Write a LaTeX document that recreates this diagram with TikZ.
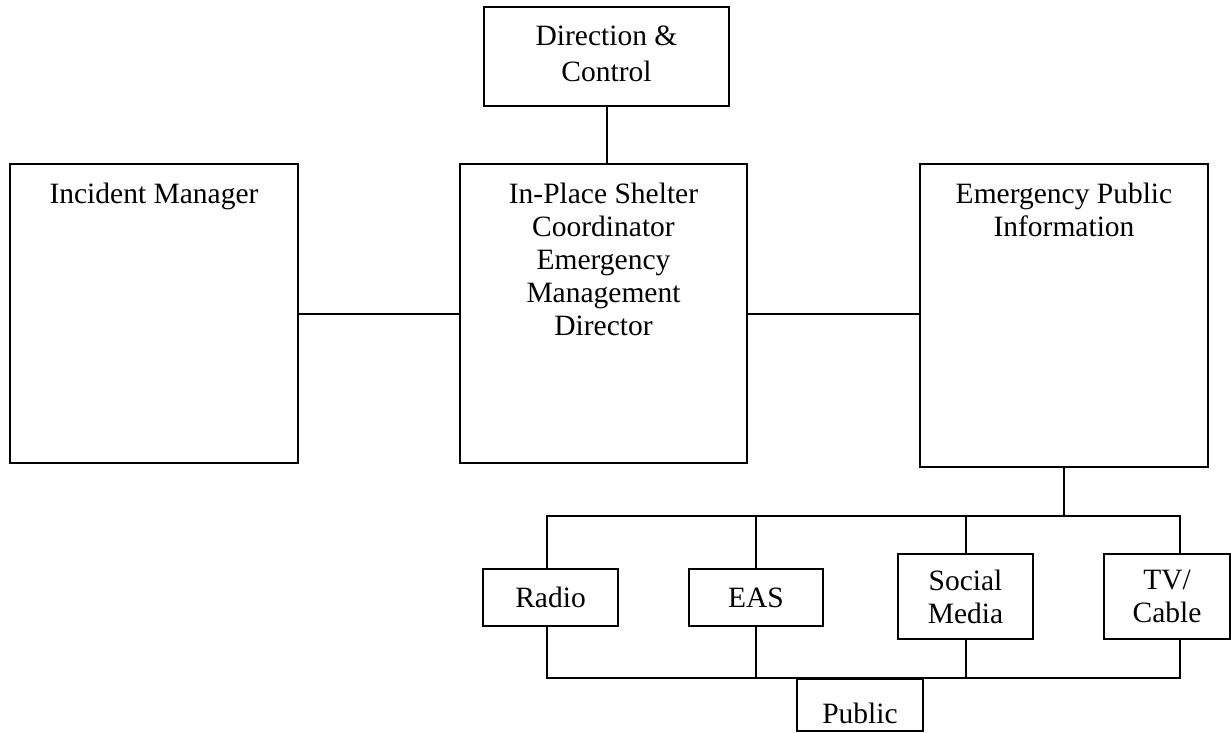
\documentclass[tikz,border=0pt]{standalone}
\usepackage{fontspec}
\setmainfont{Liberation Serif}
\usetikzlibrary{positioning}

\begin{document}
\begin{tikzpicture}[x=1pt,y=-1pt,
  box/.style={draw,line width=2pt,inner sep=0pt,align=center,font=\fontsize{29.5}{33}\selectfont},
  toptext/.style={below=20pt,inner sep=0pt,align=center,font=\fontsize{29.5}{33}\selectfont},
  link/.style={line width=2pt}]
\useasboundingbox (0,0) rectangle (1231,732);

% Command level
\node[box,minimum width=245pt,minimum height=99pt,text depth=6pt] (dc) at (606.5,56.5) {Direction \&\\[3pt]Control};
\node[box,minimum width=288pt,minimum height=299pt,
  label={[toptext]north:{Incident Manager}}] (im) at (154,313.5) {};
\node[box,minimum width=287pt,minimum height=299pt,
  label={[toptext]north:{In-Place Shelter\\Coordinator\\Emergency\\Management\\Director}}] (ipc) at (603.5,313.5) {};
\node[box,minimum width=288pt,minimum height=303pt,
  label={[toptext]north:{Emergency Public\\Information}}] (epi) at (1064,315.5) {};

\draw[link] (dc.south) -- (dc.south |- ipc.north);
\draw[link] (im.east) -- (ipc.west);
\draw[link] (ipc.east) -- (ipc.east -| epi.west);

% Media outlets
\node[box,minimum width=135pt,minimum height=57pt] (radio) at (550.5,597.5) {Radio};
\node[box,minimum width=134pt,minimum height=57pt] (eas) at (756,597.5) {EAS};
\node[box,minimum width=135pt,minimum height=85pt] (social) at (965.5,596.5) {Social\\Media};
\node[box,minimum width=126pt,minimum height=85pt] (tv) at (1167,596.5) {TV/\\Cable};
\node[box,minimum width=126pt,minimum height=52pt,text height=36pt,text depth=0pt] (public) at (860,705) {Public};

\coordinate[below=48pt of epi.south] (hub);
\draw[link] (epi.south) -- (hub);
\draw[link] ([xshift=-4pt]radio.north) |- (hub) -| ([xshift=13pt]tv.north);
\draw[link] (eas.north) -- (eas.north |- hub);
\draw[link] (social.north) -- (social.north |- hub);

\draw[link] ([xshift=-4pt]radio.south) |- (public.north) -| ([xshift=13pt]tv.south);
\draw[link] (eas.south) -- (eas.south |- public.north);
\draw[link] (social.south) -- (social.south |- public.north);
\end{tikzpicture}
\end{document}
